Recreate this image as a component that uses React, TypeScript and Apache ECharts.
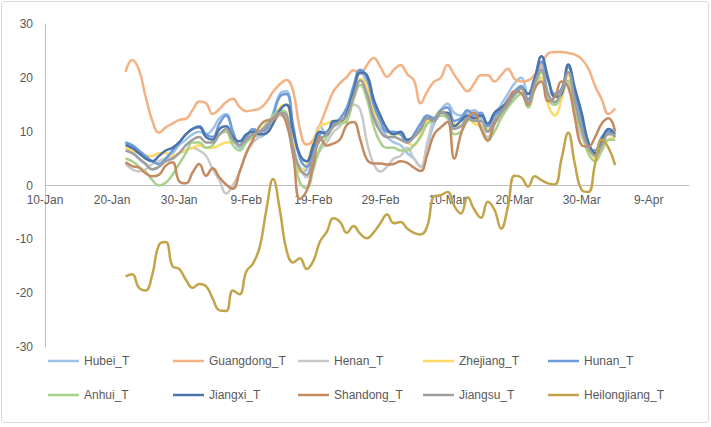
import React, { useEffect, useRef } from "react";
import * as echarts from "echarts";

// Day offsets from 10-Jan-2020 (22-Jan .. 4-Apr)
const FIRST_DAY = 12;
const dayOffsets: number[] = Array.from({ length: 74 }, (_, i) => FIRST_DAY + i);

const seriesNames = [
  "Hubei_T", "Guangdong_T", "Henan_T", "Zhejiang_T", "Hunan_T",
  "Anhui_T", "Jiangxi_T", "Shandong_T", "Jiangsu_T", "Heilongjiang_T",
];

const seriesColors = [
  "#9DC3E6", "#F4B183", "#C9C9C9", "#FFD966", "#6F9BD8",
  "#A9D18E", "#4A74AC", "#C48A60", "#9E9E9E", "#C2A54A",
];

const hubei = [
  8, 6.5, 5, 4, 3, 3.5, 5, 6, 7.5, 8.5,
  9.5, 10, 9.5, 10.5, 12.5, 13.3, 10, 7, 8.5, 9.5,
  9, 10, 13.5, 17, 17.5, 9, 2.5, 3, 7, 11,
  9.5, 11, 11.5, 13, 17, 21, 19, 13, 11, 9,
  8, 7.5, 6, 5, 3.5, 7.5, 11.5, 14, 15.2, 13.5,
  13, 13.5, 14, 12.5, 10, 12.5, 15, 17, 19, 20,
  17, 20, 22, 17, 15, 17, 21, 16, 11, 7.5,
  6, 7.5, 10, 9.5,
];

const guangdong = [
  21.1, 23.3, 21.5, 16.5, 12, 9.8, 10.8, 11.5, 12.2, 12.4,
  14, 15.6, 15.3, 13.3, 14.2, 15.5, 16.1, 14.6, 13.8, 14,
  14.3, 15.5, 17.4, 18.8, 19.6, 17.5, 10.5, 7.6, 8.5, 11.3,
  14.5, 17.5, 19, 20.2, 21.4, 20.7, 22.4, 23.7, 22, 20.2,
  21.5, 22.4, 20.7, 19.5, 15.3, 17.5, 19.3, 20, 22.4, 20.6,
  18.8, 17.5, 19, 20.5, 20.5, 19.3, 20.5, 21.7, 19.8, 19.3,
  19.5, 20.6, 22.4, 24.5, 24.8, 24.8, 24.6, 24.3, 23.5, 21.7,
  18.5, 16, 13.3, 14.3,
];

const henan = [
  4, 3, 2.6, 3, 4, 4.5, 5, 5, 6, 6.5,
  7, 6.5, 5.5, 3, 1, -1.5, 0, 2.5, 6, 8,
  9, 10, 11.5, 13, 12, 6, 3.5, 1.5, 4, 6.5,
  8, 10, 11, 13, 15, 14, 8, 4, 2.6, 3.5,
  5, 5.5, 7, 5, 3.5, 8, 12.5, 14, 14.5, 11.5,
  11, 12, 12.5, 11, 9, 11.5, 13, 15, 16.5, 18,
  15, 18, 20, 16, 15.5, 17.5, 19, 13, 9, 7,
  6, 7.5, 10, 10.5,
];

const zhejiang = [
  7, 6.5, 6, 5.5, 5.5, 6, 6, 5.5, 6, 6.5,
  7, 7.5, 7, 7, 7.5, 8, 8, 7.5, 9, 10,
  10, 10.5, 12, 14.5, 15, 8, 2.5, 4, 8, 11,
  11.5, 12, 11.5, 13.5, 17, 19.8, 18.5, 14, 11.5, 10,
  9.5, 9.5, 8, 7.5, 9.5, 12, 12.5, 14, 13, 11.5,
  11, 12.5, 11.5, 11, 10.5, 12, 13, 15, 17, 18,
  16, 19, 20, 15, 13, 16, 20.5, 15, 10, 6,
  5, 6.5, 8.5, 9,
];

const hunan = [
  8, 7.5, 6.5, 5.5, 4.5, 4, 5, 6.5, 8, 9.5,
  10.5, 11, 9.5, 9, 11.5, 13, 10, 7.5, 9, 10.5,
  10, 10.5, 13, 16.5, 17, 11, 5, 3.5, 6.5, 9.5,
  10, 11.5, 12.5, 14.5, 18.5, 21.5, 20, 15, 12, 10,
  10, 9.5, 8, 9.5, 11.5, 13, 12.5, 14, 14.5, 12,
  12.5, 14, 13, 13.5, 11, 13, 14, 16, 17.5, 18.5,
  16, 19.5, 23, 19.5, 17, 18, 22, 17, 12.5, 7.5,
  6.5, 9, 10, 9,
];

const anhui = [
  5, 4.5, 3.5, 2.5, 1, 0, 0.5, 2, 4, 6,
  8, 8, 7, 7.5, 9.5, 10, 7.5, 6.5, 8, 9,
  10, 11.5, 13, 14, 13.5, 6, 0.5, -0.5, 3, 7,
  9, 11, 11.5, 12, 16, 18.7, 16, 11, 8, 7,
  7, 6.5, 6.5, 7.5, 9, 11.5, 12, 13, 12.5, 9.5,
  10, 12, 12.5, 11, 8.5, 10, 12.5, 14.5, 16, 17,
  14.5, 18, 21, 16, 15, 17, 19.5, 14, 10, 6,
  4.5, 6.5, 8.5, 8.5,
];

const jiangxi = [
  7.5, 7, 6, 5, 4.5, 5.5, 6.5, 7, 8, 9.5,
  10.5, 10.8, 9, 8.5, 10.5, 11, 9, 8.2, 9.5, 10,
  9.5, 9.7, 11.5, 14, 15, 10, 5.7, 4.5, 7.5, 10,
  9.5, 12, 12, 13.5, 17.5, 21, 20.5, 16, 13, 10.5,
  9.5, 10, 8.5, 9, 10.5, 12.5, 12, 13.5, 13.5, 11,
  12, 13, 12.5, 13, 11.5, 13.5, 14.5, 15.5, 17, 18,
  17, 20, 24, 20, 16.5, 17, 22.5, 18, 13.5, 8,
  6, 8.5, 10.5, 9.5,
];

const shandong = [
  4.3, 3.6, 3.3, 2.3, 1.7, 2, 3.7, 4.3, 0.8, 0.4,
  2.4, 4, 1.8, 3.2, 1.5, 0.2, -0.6, 2.5, 6, 8.5,
  11, 12.1, 12.2, 13.4, 11.5, 5.5, -2.5, -1, 3.8, 9,
  7.4, 7.8, 8.6, 11.3, 11.8, 8.5, 4.8, 4.1, 4.1, 3.9,
  4, 4.5, 4.2, 3.3, 2.7, 5.8, 9.5, 10.8, 11.8, 5,
  9.5, 12.5, 13.5, 10.5, 8.3, 11.5, 13.5, 15.5, 17.5, 17.2,
  15, 18, 19.3, 15.7, 16.5, 19.3, 18.3, 12.5, 7.5, 7.2,
  9, 11.5, 12.5, 10,
];

const jiangsu = [
  6.5, 6, 5, 4, 3, 3.5, 4.5, 5, 6, 7.5,
  8.5, 9, 8, 8, 9.5, 10.5, 8.5, 7.5, 8.5, 9.5,
  10, 11, 12.5, 13.5, 13, 7, 3, 2, 5.5, 8.5,
  9.5, 11, 12, 13, 16.5, 19.5, 17, 12.5, 10, 9,
  9, 8.5, 8, 9, 10.5, 12.5, 12, 13.5, 13, 10.5,
  11, 12.5, 12, 12, 10, 12, 13.5, 15, 17, 18,
  15.5, 19, 21.5, 17, 15.5, 17.5, 21, 15.5, 10.5, 7,
  5.5, 7.5, 9.5, 9.5,
];

const heilongjiang = [
  -16.9, -16.5, -19, -19.5, -16.5, -11, -10.5, -15, -15.5, -17.5,
  -19, -18.3, -18.7, -21, -23.2, -23.3, -19.5, -20.2, -16, -14.5,
  -11.5, -4.5, 1.2, -4.5, -12, -14.3, -13.5, -15.5, -14, -10.4,
  -8.6, -6.1, -6.8, -8.8, -7.5, -9, -9.8, -8.7, -7, -5.4,
  -7, -6.8, -8, -8.8, -9.1, -7.5, -2, -1.8, -1.2, -3.8,
  -5.2, -2.2, -4.5, -6, -3, -4.5, -8, -4, 1.8, 1.5,
  -0.2, 1.7, 1, 0.4, 0.2, 5, 9.8, 3.9, -0.8, -1.2,
  4, 8.5, 7, 3.8,
];

const seriesValues = [
  hubei, guangdong, henan, zhejiang, hunan,
  anhui, jiangxi, shandong, jiangsu, heilongjiang,
];

const yTicks = { min: -30, max: 30, step: 10 };
const xTicks = { min: 0, max: 96, step: 10 };

const MONTHS = ["Jan", "Feb", "Mar", "Apr", "May", "Jun", "Jul", "Aug", "Sep", "Oct", "Nov", "Dec"];
const BASE = Date.UTC(2020, 0, 10);
function dayLabel(d: number): string {
  if (d % 10 !== 0 || d > 90) return "";
  const dt = new Date(BASE + d * 86400000);
  return `${dt.getUTCDate()}-${MONTHS[dt.getUTCMonth()]}`;
}

const FONT = "'Liberation Sans', Arial, sans-serif";
const TEXT = "#595959";

// plot geometry
const G_LEFT = 45;
const G_RIGHT = 22;
const G_TOP = 24;
const G_BOTTOM = 80;
const PLOT_H = 427 - G_TOP - G_BOTTOM;
// upper half grid ends at value 0 (middle of symmetric y range)
const UPPER_BOTTOM = G_BOTTOM + PLOT_H * ((0 - yTicks.min) / (yTicks.max - yTicks.min));

export default function App() {
  const ref = useRef<HTMLDivElement>(null);
  useEffect(() => {
    if (!ref.current) return;
    const chart = echarts.init(ref.current, undefined, { renderer: "svg" });
    const series = seriesNames.map((name, i) => ({
      name,
      type: "line",
      smooth: 0.45,
      symbol: "none",
      xAxisIndex: 0,
      yAxisIndex: 0,
      data: dayOffsets.map((d, k) => [d, seriesValues[i][k]]),
      lineStyle: { width: 2.5, color: seriesColors[i] },
      itemStyle: { color: seriesColors[i] },
      z: 2 + i,
    }));
    const legends = seriesNames.map((name, i) => ({
      data: [name],
      left: 48 + 125 * (i % 5),
      top: i < 5 ? 355 : 389,
      icon: "rect",
      itemWidth: 31,
      itemHeight: 2.5,
      itemGap: 0,
      padding: 0,
      selectedMode: false,
      textStyle: { fontSize: 12, color: TEXT, fontFamily: FONT },
    }));
    chart.setOption({
      animation: false,
      backgroundColor: "#ffffff",
      grid: [
        { left: G_LEFT, right: G_RIGHT, top: G_TOP, bottom: G_BOTTOM, containLabel: false },
        { left: G_LEFT, right: G_RIGHT, top: G_TOP, bottom: UPPER_BOTTOM, containLabel: false },
      ],
      xAxis: [
        {
          type: "value",
          gridIndex: 0,
          min: xTicks.min,
          max: xTicks.max,
          interval: xTicks.step,
          axisLine: { onZero: true, lineStyle: { color: "#BFBFBF", width: 1 } },
          axisTick: { show: false },
          splitLine: { show: false },
          axisLabel: { show: false },
        },
        {
          type: "value",
          gridIndex: 1,
          min: xTicks.min,
          max: xTicks.max,
          interval: xTicks.step,
          axisLine: { show: false, onZero: false },
          axisTick: { show: false },
          splitLine: { show: false },
          axisLabel: {
            formatter: (v: number) => dayLabel(v),
            color: TEXT,
            fontSize: 12,
            fontFamily: FONT,
            margin: 8,
            showMaxLabel: false,
          },
        },
      ],
      yAxis: [
        {
          type: "value",
          gridIndex: 0,
          min: yTicks.min,
          max: yTicks.max,
          interval: yTicks.step,
          axisLine: { show: true, onZero: false, lineStyle: { color: "#BFBFBF", width: 1 } },
          axisTick: { show: false },
          splitLine: { show: false },
          axisLabel: { color: TEXT, fontSize: 12, fontFamily: FONT, margin: 12 },
        },
        {
          type: "value",
          gridIndex: 1,
          min: 0,
          max: yTicks.max,
          show: false,
        },
      ],
      legend: legends,
      graphic: [
        {
          type: "rect",
          shape: { x: 1.5, y: 1.5, width: 707, height: 421, r: 3 },
          style: { fill: "none", stroke: "#D9D9D9", lineWidth: 1 },
          silent: true,
          z: -1,
        },
      ],
      series,
    });
    return () => chart.dispose();
  }, []);
  return (
    <div
      ref={ref}
      style={{ position: "fixed", left: 0, top: 0, width: 711, height: 427 }}
    />
  );
}
